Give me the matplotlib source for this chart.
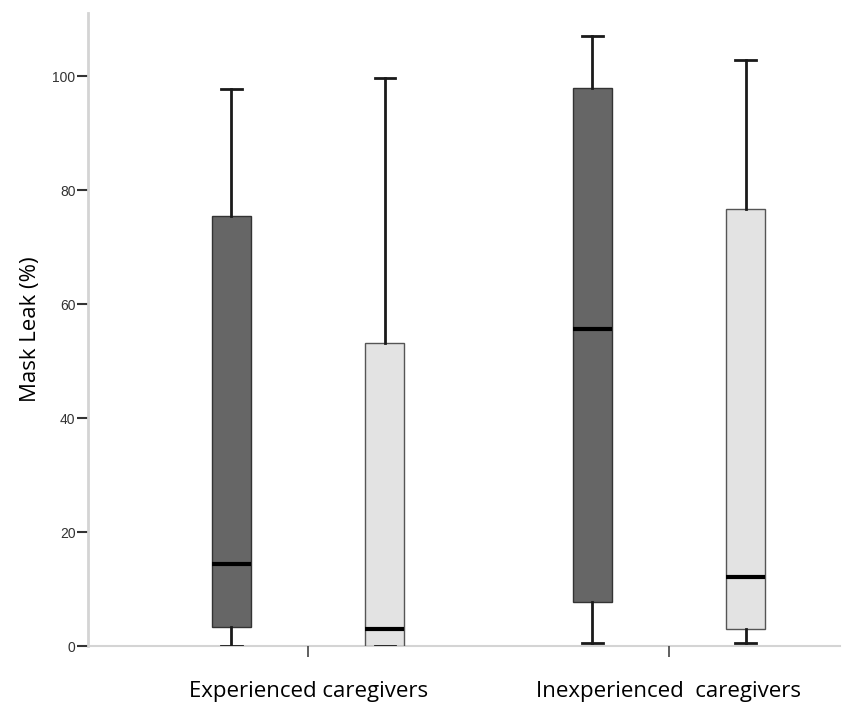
import matplotlib
matplotlib.use("Agg")
import matplotlib.pyplot as plt

groups = ["Experienced caregivers", "Inexperienced  caregivers"]
series_colors = ["#666666", "#e3e3e3"]
# per group: [dark series, light series]
whislo = [[0.0, 0.0], [0.5, 0.5]]
q1 = [[3.3, 0.0], [7.7, 3.0]]
med = [[14.4, 3.0], [55.6, 12.1]]
q3 = [[75.4, 53.2], [97.9, 76.7]]
whishi = [[97.7, 99.7], [107.0, 102.8]]
yticks = [0, 20, 40, 60, 80, 100]

fig = plt.figure(figsize=(8.42, 7.03), dpi=100)
ax = fig.add_axes([88/842, 1 - 646/703, 752/842, 633/703])

offset = 0.213
width = 0.108
for g in range(len(groups)):
    for s in range(2):
        stats = [dict(whislo=whislo[g][s], q1=q1[g][s], med=med[g][s],
                      q3=q3[g][s], whishi=whishi[g][s], fliers=[])]
        pos = g + (-offset if s == 0 else offset)
        ax.bxp(stats, positions=[pos], widths=width, patch_artist=True,
               showfliers=False, capwidths=0.058,
               boxprops=dict(facecolor=series_colors[s],
                             edgecolor="#333333" if s == 0 else "#555555",
                             linewidth=1.0),
               medianprops=dict(color="black", linewidth=3),
               whiskerprops=dict(color="#1a1a1a", linewidth=2),
               capprops=dict(color="#1a1a1a", linewidth=2),
               manage_ticks=False)

ax.set_xlim(-0.61, 1.474)
ax.set_ylim(0, 111.1)
ax.set_yticks(yticks)
ax.set_yticklabels([str(v) for v in yticks], fontfamily="Liberation Sans",
                   fontsize=10, color="#333333")
ax.set_xticks(range(len(groups)))
ax.set_xticklabels(groups, fontfamily="Open Sans", fontsize=16, color="black")
ax.tick_params(axis="x", length=8, width=1.2, color="#444444", pad=17)
ax.tick_params(axis="y", length=8, width=1.5, color="#333333", pad=1)

for side in ["top", "right"]:
    ax.spines[side].set_visible(False)
ax.spines["left"].set_color("#d4d4d4")
ax.spines["left"].set_linewidth(2)
ax.spines["bottom"].set_color("#d4d4d4")
ax.spines["bottom"].set_linewidth(1.5)
ax.spines["bottom"].set_zorder(0)

ax.set_ylabel("Mask Leak (%)", fontfamily="Open Sans", fontsize=16, labelpad=8)

fig.savefig("out.png", dpi=100)
